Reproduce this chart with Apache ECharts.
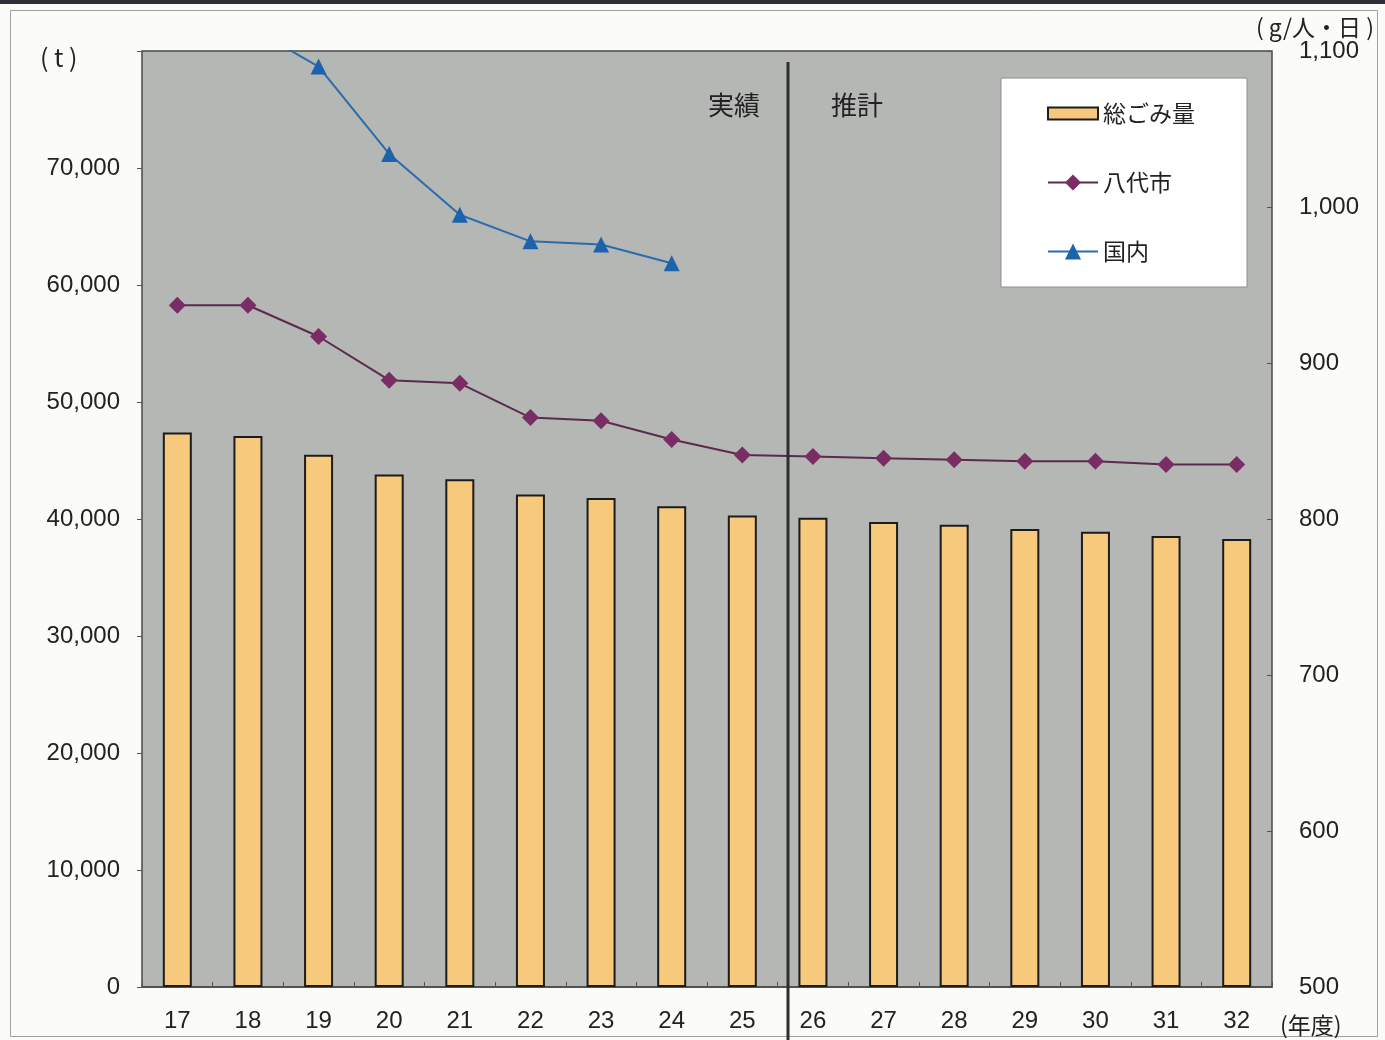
<!DOCTYPE html>
<html>
<head>
<meta charset="utf-8">
<title>ごみ排出量の推移</title>
<script src="https://cdn.jsdelivr.net/npm/echarts@6/dist/echarts.min.js"></script>
<style>
  html, body { margin: 0; padding: 0; background: #fbfbf7; }
  #chart { width: 1385px; height: 1040px; }
</style>
</head>
<body>
<div id="chart"></div>
<script>
// 年度（平成）
const years = ['17', '18', '19', '20', '21', '22', '23', '24', '25', '26', '27', '28', '29', '30', '31', '32'];

// 総ごみ量 (t)
const totalWaste = [47400, 47100, 45500, 43800, 43400, 42100, 41800, 41100, 40300, 40100, 39750, 39500, 39150, 38900, 38550, 38300];

// 1人1日当たり排出量 (g/人・日) — 八代市
const yatsushiro = [937, 937, 917, 889, 887, 865, 863, 851, 841, 840, 839, 838, 837, 837, 835, 835];

// 1人1日当たり排出量 (g/人・日) — 国内（実績のみ）
const national = [1131, 1116, 1090, 1034, 995, 978, 976, 964];

// 軸目盛
const leftTicks = { min: 0, max: 80000, interval: 10000 };
const rightTicks = { min: 500, max: 1100, interval: 100 };

const NUM_FONT = 'Liberation Sans';
const JP_FONT = 'Noto Sans CJK JP';

const fmt = v => v.toLocaleString('en-US');

const chart = echarts.init(document.getElementById('chart'), null, { renderer: 'canvas' });

chart.setOption({
  animation: false,
  backgroundColor: '#fbfbf7',
  grid: {
    left: 142, right: 113, top: 51, bottom: 53,
    show: true,
    backgroundColor: '#b4b7b4',
    borderColor: '#4a4a4a',
    borderWidth: 1.5
  },
  legend: {
    orient: 'vertical',
    left: 1001, top: 78,
    itemWidth: 50, itemHeight: 20, itemGap: 46,
    padding: [24, 52, 24, 46],
    backgroundColor: '#ffffff',
    borderColor: '#8e8e8e', borderWidth: 1,
    textStyle: { fontSize: 23, fontFamily: JP_FONT, color: '#222' },
    data: [
      { name: '総ごみ量', icon: 'path://M0,0 L50,0 L50,12 L0,12 Z' },
      { name: '八代市' },
      { name: '国内' }
    ]
  },
  xAxis: {
    type: 'category',
    data: years,
    boundaryGap: true,
    axisLine: { show: true, lineStyle: { color: '#4a4a4a', width: 1.5 } },
    axisTick: { show: true, inside: true, length: 5, interval: 0, lineStyle: { color: '#555' } },
    axisLabel: { fontSize: 24, fontFamily: NUM_FONT, color: '#222', margin: 22, interval: 0 },
    splitLine: { show: false }
  },
  yAxis: [
    {
      type: 'value',
      min: leftTicks.min, max: leftTicks.max, interval: leftTicks.interval,
      axisLine: { show: false },
      axisTick: { show: true, length: 5, lineStyle: { color: '#555' } },
      axisLabel: {
        fontSize: 24, fontFamily: NUM_FONT, color: '#222', margin: 22,
        formatter: v => (v === leftTicks.max ? '' : fmt(v))
      },
      splitLine: { show: false }
    },
    {
      type: 'value',
      position: 'right',
      min: rightTicks.min, max: rightTicks.max, interval: rightTicks.interval,
      axisLine: { show: false },
      axisTick: { show: true, inside: true, length: 5, lineStyle: { color: '#555' } },
      axisLabel: { fontSize: 24, fontFamily: NUM_FONT, color: '#222', margin: 27, formatter: v => fmt(v) },
      splitLine: { show: false }
    }
  ],
  series: [
    {
      name: '総ごみ量',
      type: 'bar',
      data: totalWaste,
      barWidth: 29,
      itemStyle: { color: '#f7c97c', borderColor: '#1c1c1c', borderWidth: 2 }
    },
    {
      name: '八代市',
      type: 'line',
      yAxisIndex: 1,
      data: yatsushiro,
      symbol: 'diamond',
      symbolSize: 17,
      lineStyle: { color: '#5c2a4d', width: 2 },
      itemStyle: { color: '#7a2c64' },
      z: 5
    },
    {
      name: '国内',
      type: 'line',
      yAxisIndex: 1,
      data: national,
      clip: true,
      symbol: 'triangle',
      symbolSize: 16,
      lineStyle: { color: '#2a6cae', width: 2 },
      itemStyle: { color: '#1d63ab' },
      z: 5
    }
  ]
});

// 実績と推計の境目（25年度と26年度の間）
const x25 = chart.convertToPixel({ xAxisIndex: 0 }, '25');
const x26 = chart.convertToPixel({ xAxisIndex: 0 }, '26');
const divX = Math.round(x25 + (x26 - x25) * 0.64);

chart.setOption({
  graphic: [
    { type: 'rect', shape: { x: 0, y: 0, width: 1385, height: 4 }, style: { fill: '#2c3035' }, silent: true },
    { type: 'rect', shape: { x: 10.5, y: 10.5, width: 1367, height: 1026 }, style: { fill: null, stroke: '#a0a0a0', lineWidth: 1 }, silent: true },
    { type: 'line', shape: { x1: divX, y1: 62, x2: divX, y2: 1040 }, style: { stroke: '#2e2e2e', lineWidth: 3 }, z: 10 },
    { type: 'text', x: divX - 28, y: 105, style: { text: '実績', fontSize: 26, fontFamily: JP_FONT, fill: '#222', align: 'right', verticalAlign: 'middle' }, z: 10 },
    { type: 'text', x: divX + 43, y: 105, style: { text: '推計', fontSize: 26, fontFamily: JP_FONT, fill: '#222', align: 'left', verticalAlign: 'middle' }, z: 10 },
    { type: 'text', x: 40, y: 57, style: { text: '( t )', fontSize: 25, fontFamily: JP_FONT, fill: '#222', align: 'left', verticalAlign: 'middle' } },
    { type: 'text', x: 1374, y: 27, style: { text: '( g/人・日 )', fontSize: 23, fontFamily: JP_FONT, fill: '#222', align: 'right', verticalAlign: 'middle' } },
    { type: 'text', x: 1280, y: 1025, style: { text: '(年度)', fontSize: 23, fontFamily: JP_FONT, fill: '#222', align: 'left', verticalAlign: 'middle' } }
  ]
});
</script>
</body>
</html>
